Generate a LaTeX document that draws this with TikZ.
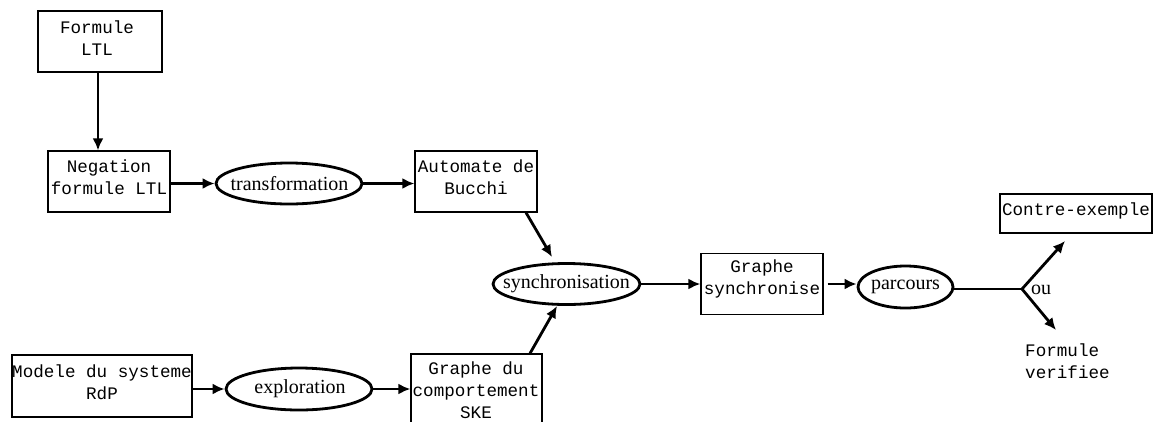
\documentclass[tikz,border=0pt]{standalone}
\usepackage{fontspec}
\setmainfont{Liberation Serif}
\setmonofont{Liberation Mono}
\usetikzlibrary{shapes.geometric,arrows.meta}
\begin{document}
\begin{tikzpicture}[x=1pt,y=-1pt,
  box/.style={draw,line width=1.2pt,inner sep=0pt},
  mono/.style={font=\fontsize{17.6}{22}\selectfont\ttfamily,align=center,inner sep=0pt},
  proc/.style={ellipse,draw,line width=2.8pt,inner sep=0pt},
  ptext/.style={font=\fontsize{20}{24}\selectfont,inner sep=0pt},
  arr/.style={line width=2.8pt,-{Latex[length=12pt,width=11pt]}},
  ]
\clip (0,0) rectangle (1155,421);
% boxes
\node[box,minimum width=124pt,minimum height=61pt] (f) at (100,41.5) {};
\node[mono] (ft) at (97,38) {Formule\\LTL};
\node[box,minimum width=122pt,minimum height=61pt] (neg) at (109,181.5) {};
\node[mono] (negt) at (109,177) {Negation\\formule LTL};
\node[box,minimum width=122pt,minimum height=61pt] (auto) at (476,181.5) {};
\node[mono] (autot) at (476,177) {Automate de\\Bucchi};
\node[box,minimum width=122pt,minimum height=61pt] (gs) at (762,284) {};
\node[mono] (gst) at (762,279) {Graphe\\synchronise};
\node[box,minimum width=152pt,minimum height=39pt] (ce) at (1076,213.5) {};
\node[mono] (cet) at (1076,211) {Contre-exemple};
\node[box,minimum width=180pt,minimum height=62pt] (mod) at (102,386) {};
\node[mono] (modt) at (102,382) {Modele du systeme\\RdP};
\node[box,minimum width=131pt,minimum height=90pt] (gdu) at (476.5,399) {};
\node[mono] (gdut) at (476,390.5) {Graphe du\\comportement\\SKE};
\node[mono,align=left,anchor=west] (fv) at (1025,361) {Formule\\verifiee};
% ellipses
\node[proc,minimum width=146pt,minimum height=41pt] (tr) at (289,183.5) {};
\node[ptext] (trt) at (289.5,183.5) {transformation};
\node[proc,minimum width=146pt,minimum height=42pt] (ex) at (299,389) {};
\node[ptext] (ext) at (300,389) {exploration};
\node[proc,minimum width=147pt,minimum height=41pt] (sy) at (566.5,284) {};
\node[ptext] (syt) at (566.5,284) {synchronisation};
\node[proc,minimum width=95pt,minimum height=42pt] (pa) at (905.5,287) {};
\node[ptext] (pat) at (905.5,287) {parcours};
\node[ptext] (ou) at (1041,290) {ou};
% coordinates
\coordinate (ax) at (98,0);
\coordinate (c1) at (526,0);
\coordinate (c2) at (552,257);
\coordinate (c3) at (530,0);
\coordinate (c4) at (557,306);
\coordinate (j) at (1022,289);
\coordinate (jt) at (1065,241);
\coordinate (jb) at (1056,330);
% connectors
\draw[arr] (f.south -| ax) -- (neg.north -| ax);
\draw[arr] (neg.east |- tr.west) -- (tr.west);
\draw[arr] (tr.east) -- (auto.west |- tr.east);
\draw[arr] (auto.south -| c1) -- (c2);
\draw[arr] (gdu.north -| c3) -- (c4);
\draw[arr] (sy.east) -- (gs.west |- sy.east);
\draw[arr] ([xshift=4pt]gs.east) -- (pa.west |- gs.east);
\draw[line width=2.8pt] (pa.east |- j) -- (j);
\draw[arr] (j) -- (jt);
\draw[arr] (j) -- (jb);
\draw[arr] (mod.east |- ex.west) -- (ex.west);
\draw[arr] (ex.east) -- (gdu.west |- ex.east);
\end{tikzpicture}
\end{document}
